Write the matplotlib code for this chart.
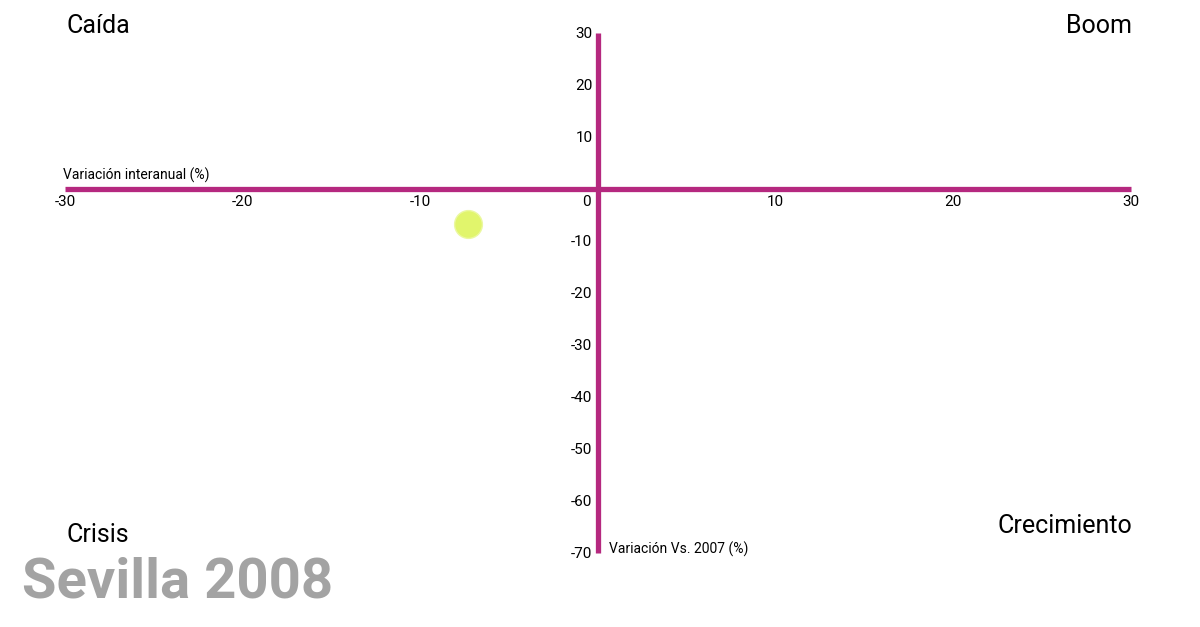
import matplotlib.pyplot as plt
from matplotlib.transforms import ScaledTranslation

plt.rcParams['font.family'] = ['Liberation Sans Narrow', 'Roboto', 'DejaVu Sans']

# data
ciudad = ['Sevilla']
anio = 2008
variacion_interanual = [-7.3]
variacion_vs_2007 = [-6.8]
x_ticks = [-30, -20, -10, 0, 10, 20, 30]
y_ticks = [30, 20, 10, -10, -20, -30, -40, -50, -60, -70]

magenta = '#b5287f'

fig = plt.figure(figsize=(12, 6.27), dpi=100)
ax = fig.add_axes([65 / 1200, 1 - 553 / 627, (1131 - 65) / 1200, (553 - 33) / 627])
ax.set_xlim(-30, 30)
ax.set_ylim(-70, 30)

ax.scatter(variacion_interanual, variacion_vs_2007, s=400, color='#e1f56c',
           edgecolors='#ebf8a0', linewidths=1, zorder=3)

for side in ['top', 'right']:
    ax.spines[side].set_visible(False)
for side in ['left', 'bottom']:
    ax.spines[side].set_position(('data', 0))
    ax.spines[side].set_color(magenta)
    ax.spines[side].set_linewidth(3.8)
    ax.spines[side].set_capstyle('butt')

ax.set_xticks(x_ticks)
ax.set_yticks(y_ticks)
ax.set_xticklabels([str(t) for t in x_ticks])
ax.set_yticklabels([str(t) for t in y_ticks])
ax.tick_params(length=0, labelsize=11)
ax.tick_params(axis='x', pad=4)
ax.tick_params(axis='y', pad=4)
# the 0 sits left of the vertical axis line
for lbl in ax.get_xticklabels():
    if lbl.get_text() == '0':
        lbl.set_ha('right')
        lbl.set_transform(lbl.get_transform() + ScaledTranslation(-5 / 72, 0, fig.dpi_scale_trans))

ax.text(-30.1, 1.2, 'Variación interanual (%)', fontsize=10, ha='left', va='bottom')
ax.text(0.6, -69.3, 'Variación Vs. 2007 (%)', fontsize=10, ha='left', va='center')

fig.text(66 / 1200, 1 - 26 / 627, 'Caída', fontsize=18, ha='left', va='center')
fig.text(1132 / 1200, 1 - 26 / 627, 'Boom', fontsize=18, ha='right', va='center')
fig.text(66 / 1200, 1 - 535 / 627, 'Crisis', fontsize=18, ha='left', va='center')
fig.text(1132 / 1200, 1 - 526 / 627, 'Crecimiento', fontsize=18, ha='right', va='center')
fig.text(22 / 1200, 1 - 582 / 627, f'{ciudad[0]} {anio}', fontsize=40.5, fontweight='bold',
         color='#a3a3a3', ha='left', va='center')

fig.savefig('out.png', dpi=100, facecolor='white')
